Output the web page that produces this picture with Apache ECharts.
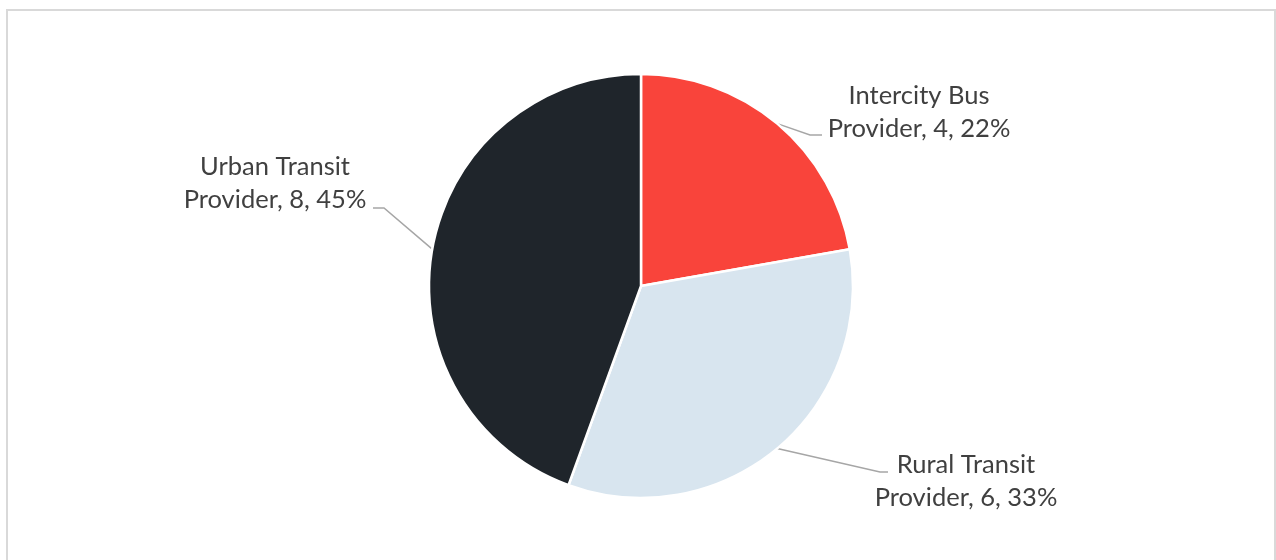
<!DOCTYPE html>
<html>
<head>
<meta charset="utf-8">
<style>
  html, body { margin: 0; padding: 0; background: #ffffff; }
  #chart { width: 1276px; height: 560px; }
</style>
<script src="https://cdn.jsdelivr.net/npm/echarts@6/dist/echarts.min.js"></script>
</head>
<body>
<div id="chart"></div>
<script>
// ---- data ----
const categories = ['Intercity Bus Provider', 'Rural Transit Provider', 'Urban Transit Provider'];
const values = [4, 6, 8];
const percentLabels = ['22%', '33%', '45%'];
const colors = ['#F9443B', '#D8E5EF', '#1F252B'];

// ---- layout (label placement relative to the pie) ----
const CX = 641, CY = 286, R = 212;
// text centre offsets and leader-line elbows, relative to pie centre
const labelPlace = [
  { tx: 278, ty: -174, elbow: [[169, -151], [181, -151]] },
  { tx: 325, ty: 195, elbow: [[239, 186], [247, 186]] },
  { tx: -366, ty: -103, elbow: [[-257, -78], [-268, -78]] }
];

const chart = echarts.init(document.getElementById('chart'), null, { renderer: 'canvas' });

const total = values.reduce((a, b) => a + b, 0);
const midAngles = [];
let acc = 0;
values.forEach(v => { midAngles.push((acc + v / 2) / total * 2 * Math.PI); acc += v; });

const option = {
  backgroundColor: '#ffffff',
  animation: false,
  graphic: [{
    type: 'rect',
    shape: { x: 7, y: 10, width: 1268, height: 600 },
    style: { fill: 'none', stroke: '#d9d9d9', lineWidth: 2 },
    silent: true
  }],
  series: [{
    type: 'pie',
    center: [CX, CY],
    radius: R,
    startAngle: 90,
    clockwise: true,
    avoidLabelOverlap: false,
    itemStyle: { borderColor: '#ffffff', borderWidth: 2.5 },
    label: {
      show: true,
      position: 'outside',
      fontFamily: 'Lato',
      fontSize: 25.5,
      lineHeight: 33,
      color: '#404040',
      align: 'center',
      formatter: p => p.name.replace(' Provider', '\nProvider') + ', ' + p.value + ', ' + percentLabels[p.dataIndex]
    },
    labelLine: { show: true, lineStyle: { color: '#a6a6a6', width: 1.5 } },
    labelLayout: function (params) {
      const i = params.dataIndex;
      const lp = labelPlace[i];
      const a = midAngles[i];
      const ex = CX + R * Math.sin(a), ey = CY - R * Math.cos(a);
      return {
        x: CX + lp.tx,
        y: CY + lp.ty,
        align: 'center',
        verticalAlign: 'middle',
        labelLinePoints: [[ex, ey]].concat(lp.elbow.map(p => [CX + p[0], CY + p[1]]))
      };
    },
    data: categories.map((c, i) => ({ name: c, value: values[i], itemStyle: { color: colors[i] } }))
  }]
};
chart.setOption(option);
</script>
</body>
</html>
